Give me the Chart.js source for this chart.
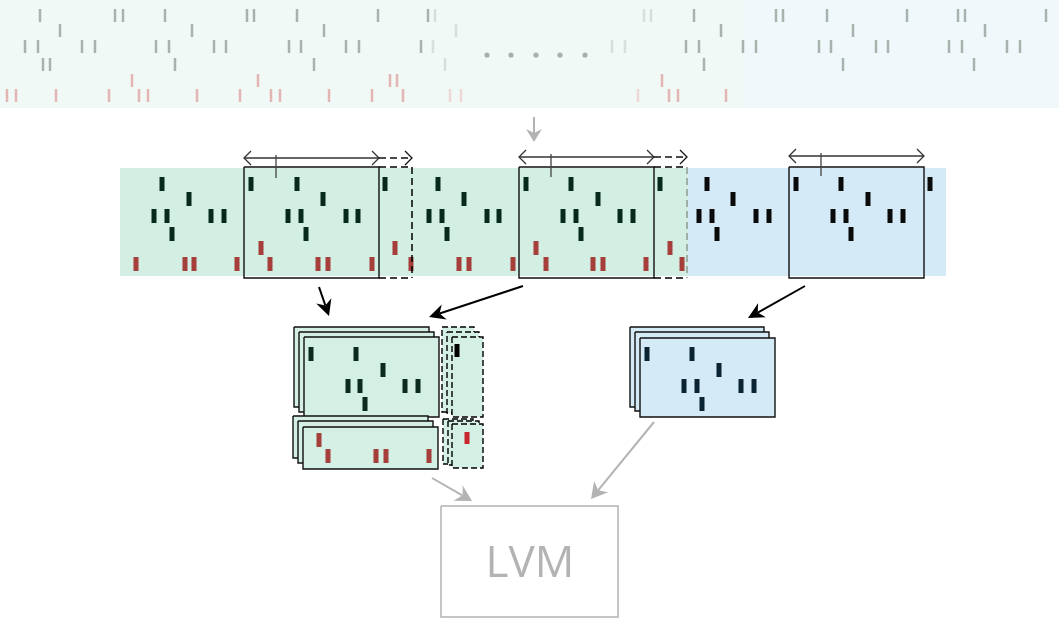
<!DOCTYPE html>
<html>
<head>
<meta charset="utf-8">
<script src="https://cdn.jsdelivr.net/npm/chart.js@4.4.1/dist/chart.umd.min.js"></script>
<style>
  html, body { margin: 0; padding: 0; background: #fff; }
  #wrap { width: 1064px; height: 618px; }
</style>
</head>
<body>
<div id="wrap"><canvas id="diagram"></canvas></div>
<script>
// ---- top strip (full recording, faded) ----
const topRowTops = [9, 24, 40, 58, 74, 89];
const topRow1 = [40, 115, 123, 165, 247, 254, 297, 378, 428, 694, 776, 783, 827, 907, 958, 965, 1046];
const topRow2 = [60, 192, 324, 721, 853, 985];
const topRow3 = [25, 38, 82, 95, 156, 169, 214, 226, 289, 301, 346, 359, 421, 686, 699, 743, 756, 819, 831, 876, 888, 949, 962, 1007, 1020];
const topRow4 = [43, 50, 175, 314, 704, 843, 974];
const topRed5 = [132, 258, 390, 397, 662];
const topRed6 = [7, 16, 56, 109, 139, 148, 197, 240, 271, 280, 329, 372, 403, 669, 678, 726];
const fadeRow1 = [435, 644, 651];
const fadeRow2 = [456];
const fadeRow3 = [433, 612, 625];
const fadeRow4 = [445];
const fadeRed6 = [450, 461, 638];
const ellipsisDots = [487, 511, 536, 560, 585];

// ---- middle strip (windowed recording) ----
const midRowTops = [177, 192, 209, 227, 241, 257];
const midGreen1 = [162, 251, 297, 385, 438, 526, 571, 660];
const midGreen2 = [189, 323, 464, 598];
const midGreen3 = [154, 167, 211, 224, 288, 301, 346, 358, 429, 442, 487, 499, 563, 576, 620, 633];
const midGreen4 = [172, 306, 447, 581];
const midRedUpper = [261, 395, 536, 670];
const midRedLower = [136, 185, 194, 237, 270, 318, 328, 372, 411, 459, 469, 513, 546, 593, 603, 646, 682];
const midBlue1 = [707, 796, 841, 930];
const midBlue2 = [733, 868];
const midBlue3 = [699, 712, 756, 769, 833, 846, 890, 903];
const midBlue4 = [717, 851];
const windowStarts = [244, 519, 789];
const windowArrowY = [158, 157, 156];

// ---- stacked samples ----
const cardRowTops = [347, 363, 379, 397];
const redCardRowTops = [433, 449];
const cardGreen1 = [311, 356];
const cardGreen2 = [383];
const cardGreen3 = [348, 360, 405, 418];
const cardGreen4 = [365];
const sliceGreen1 = [457];
const cardRedUpper = [319];
const cardRedLower = [328, 376, 386, 429];
const sliceRed = [467];
const cardBlue1 = [647, 692];
const cardBlue2 = [719];
const cardBlue3 = [684, 697, 741, 754];
const cardBlue4 = [702];

const blackArrows = [[319, 287, 329, 316], [523, 286, 429, 317], [805, 286, 748, 318]];
const grayArrows = [[534, 117, 534, 142], [432, 478, 472, 501], [654, 422, 591, 499]];
const lvmLabel = 'LVM';

const layers = [];

function add(points, opts) {
    layers.push(Object.assign({
        data: points, pointRadius: 0, borderWidth: 0, fill: false,
        tension: 0, clip: false, spanGaps: false, borderColor: 'rgba(0,0,0,0)'
    }, opts));
}

function rectPts(b) {
    return [{x: b[0], y: b[1]}, {x: b[2], y: b[1]}, {x: b[2], y: b[3]}, {x: b[0], y: b[3]}, {x: b[0], y: b[1]}];
}

function spikes(xs, top, h) {
    const pts = [];
    xs.forEach(x => { pts.push({x: x, y: top}, {x: x, y: top + h}, {x: x, y: null}); });
    return pts;
}

function box(b, fillColor, stroke, width, dash) {
    add(rectPts(b), {
        fill: fillColor ? 'shape' : false, backgroundColor: fillColor || 'rgba(0,0,0,0)',
        borderColor: stroke || 'rgba(0,0,0,0)', borderWidth: stroke ? width : 0,
        borderDash: dash || [], borderJoinStyle: 'miter'
    });
}

function spikeSet(rows, tops, h, color, w) {
    rows.forEach((xs, i) => add(spikes(xs, tops[i], h), {borderColor: color, borderWidth: w}));
}

function arrow(a, color, w, len, half) {
    const [x0, y0, x1, y1] = a;
    const d = Math.hypot(x1 - x0, y1 - y0);
    const ux = (x1 - x0) / d, uy = (y1 - y0) / d;
    const bx = x1 - ux * len, by = y1 - uy * len;
    add([{x: x0, y: y0}, {x: x1 - ux * len * 0.7, y: y1 - uy * len * 0.7}], {borderColor: color, borderWidth: w});
    add([
        {x: x1, y: y1},
        {x: bx - uy * half, y: by + ux * half},
        {x: x1 - ux * len * 0.7, y: y1 - uy * len * 0.7},
        {x: bx + uy * half, y: by - ux * half},
        {x: x1, y: y1}
    ], {fill: 'shape', backgroundColor: color});
}

function chevron(x, y, dir, color) {
    add([{x: x - dir * 7, y: y - 7}, {x: x, y: y}, {x: x - dir * 7, y: y + 7}], {borderColor: color, borderWidth: 1.3});
}

// top strip
box([0, 0, 743, 108], '#f0f9f5');
box([743, 0, 1059, 108], '#f0f8fb');
spikeSet([topRow1, topRow2, topRow3, topRow4], topRowTops, 13, '#a9b3ae', 2.5);
spikeSet([topRed5, topRed6], topRowTops.slice(4), 13, '#e2b6b4', 2.5);
spikeSet([fadeRow1, fadeRow2, fadeRow3, fadeRow4], topRowTops, 13, '#d7dfdb', 2.5);
add(spikes(fadeRed6, topRowTops[5], 13), {borderColor: '#eed8d5', borderWidth: 2.5});
add(ellipsisDots.map(x => ({x: x, y: 55})), {showLine: false, pointRadius: 2.6, pointBackgroundColor: '#a6b0ac', pointBorderWidth: 0});
arrow(grayArrows[0], '#b3b3b3', 2, 13, 8);

// middle strip
box([120, 168, 688, 276], '#d3efe3');
box([688, 168, 946, 276], '#d4ebf7');
spikeSet([midGreen1, midGreen2, midGreen3, midGreen4], midRowTops, 14, '#082a1b', 5);
spikeSet([midRedUpper, midRedLower], midRowTops.slice(4), 14, '#a43f3a', 5);
spikeSet([midBlue1, midBlue2, midBlue3, midBlue4], midRowTops, 14, '#0a0a0a', 5);

const dashed = [7, 4];
windowStarts.forEach((x0, i) => {
    const x1 = x0 + 135, ay = windowArrowY[i];
    box([x0, 167, x1, 278], null, '#111', 1.4);
    add([{x: x0, y: ay}, {x: x1, y: ay}], {borderColor: '#333', borderWidth: 1.3});
    chevron(x0, ay, -1, '#333');
    chevron(x1, ay, 1, '#333');
    add([{x: x0 + 32, y: ay - 3}, {x: x0 + 32, y: ay + 20}], {borderColor: '#444', borderWidth: 1.3});
    if (i < 2) {
        const x2 = x1 + 33;
        add([{x: x1, y: ay}, {x: x2, y: ay}], {borderColor: '#111', borderWidth: 1.4, borderDash: dashed});
        chevron(x2, ay, 1, '#111');
        add([{x: x1, y: 167}, {x: x2, y: 167}], {borderColor: '#000', borderWidth: 1.5, borderDash: dashed});
        add([{x: x1, y: 278}, {x: x2, y: 278}], {borderColor: '#000', borderWidth: 1.5, borderDash: dashed});
        add([{x: x2, y: 167}, {x: x2, y: 278}], {borderColor: i === 0 ? '#000' : '#8e9a94', borderWidth: 1.5, borderDash: dashed});
    }
});

blackArrows.forEach(a => arrow(a, '#000', 2, 16, 8));

// stacked green cards
[[294, 327, 429, 407], [299, 332, 434, 412], [304, 337, 439, 417]].forEach(b => box(b, '#d4efe3', '#111', 1.4));
spikeSet([cardGreen1, cardGreen2, cardGreen3, cardGreen4], cardRowTops, 14, '#0b2b1d', 5);
[[442, 327, 474, 412], [447, 332, 479, 413], [452, 337, 483, 417]].forEach(b => box(b, '#d4efe3', '#000', 1.4, [6, 3]));
add(spikes(sliceGreen1, cardRowTops[0] - 3, 13), {borderColor: '#000', borderWidth: 5});
[[293, 416, 428, 458], [298, 421, 433, 463], [303, 427, 438, 469]].forEach(b => box(b, '#d4efe3', '#111', 1.4));
spikeSet([cardRedUpper, cardRedLower], redCardRowTops, 14, '#a43f3a', 5);
[[443, 419, 473, 464], [448, 421, 479, 465], [452, 424, 483, 468]].forEach(b => box(b, '#d4efe3', '#000', 1.4, [6, 3]));
add(spikes(sliceRed, 432, 12), {borderColor: '#c8262d', borderWidth: 5});

// stacked blue cards
[[630, 327, 764, 407], [635, 332, 769, 411], [640, 338, 775, 417]].forEach(b => box(b, '#d4ebf7', '#111', 1.4));
spikeSet([cardBlue1, cardBlue2, cardBlue3, cardBlue4], cardRowTops, 14, '#0a2433', 5);

// model box
box([441, 506, 618, 617], null, '#b3b3b3', 1.5);
arrow(grayArrows[1], '#b3b3b3', 2, 16, 9);
arrow(grayArrows[2], '#b3b3b3', 2, 16, 9);

const n = layers.length;
layers.forEach((d, i) => { d.order = n - i; });

const labelPlugin = {
    id: 'lvmLabel',
    afterDatasetsDraw(chart) {
        const {ctx, scales: {x, y}} = chart;
        ctx.save();
        ctx.font = '44px "Open Sans"';
        ctx.fillStyle = '#b3b3b3';
        ctx.textAlign = 'center';
        ctx.textBaseline = 'middle';
        ctx.fillText(lvmLabel, x.getPixelForValue(530), y.getPixelForValue(564));
        ctx.restore();
    }
};

new Chart(document.getElementById('diagram').getContext('2d'), {
    type: 'line',
    data: { datasets: layers },
    options: {
        responsive: true,
        maintainAspectRatio: false,
        devicePixelRatio: 1,
        animation: false,
        events: [],
        layout: { padding: 0, autoPadding: false },
        plugins: { legend: { display: false }, tooltip: { enabled: false } },
        scales: {
            x: { type: 'linear', min: 0, max: 1064, display: false },
            y: { type: 'linear', min: 0, max: 618, reverse: true, display: false }
        }
    },
    plugins: [labelPlugin]
});
</script>
</body>
</html>
